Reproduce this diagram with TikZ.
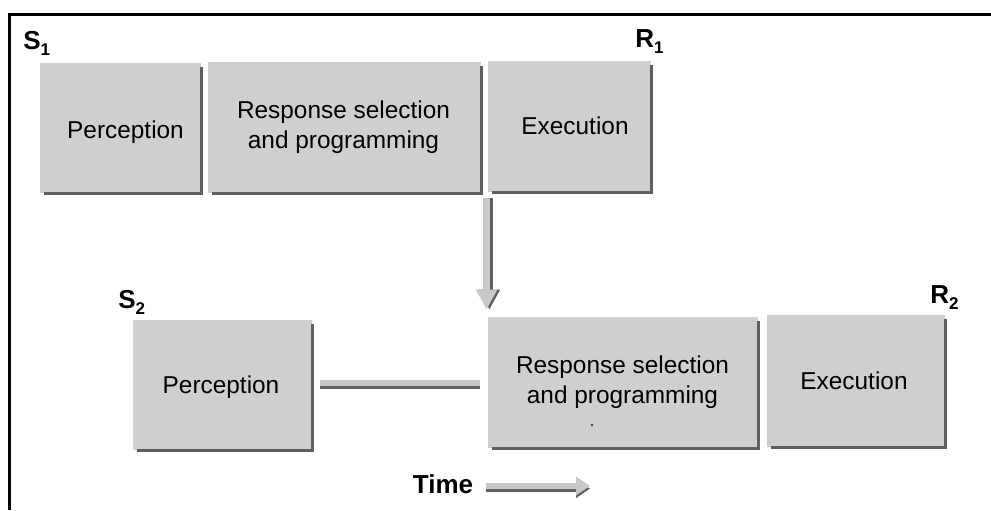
\documentclass[tikz,border=0pt]{standalone}
\usepackage{fontspec}
\setmainfont{Liberation Sans}
\usetikzlibrary{fit,arrows.meta,calc}
\definecolor{boxfill}{RGB}{207,207,207}
\definecolor{edgedark}{RGB}{95,95,95}
\definecolor{arrowlight}{RGB}{200,200,200}
\newcommand{\sublabel}[2]{\textbf{#1\raisebox{-3pt}{\fontsize{8.5}{9}\selectfont #2}}}
\tikzset{
  stagebox/.style={fill=boxfill, draw=none, inner sep=0pt},
  stagetext/.style={inner sep=0pt, align=center, font=\fontsize{12.2}{15}\selectfont},
  edgeshade/.style={draw=edgedark, line width=1.1pt},
  eventlabel/.style={inner sep=0pt, anchor=base west, font=\fontsize{13}{15}\selectfont},
  fatlight/.style={draw=arrowlight, line width=3.2pt},
  fatdark/.style={draw=edgedark, line width=3.2pt},
  fattip/.style={-{Triangle[width=10pt,length=10pt]}},
  timetip/.style={-{Triangle[width=9pt,length=7pt]}}
}
\begin{document}
\begin{tikzpicture}[x=0.5pt,y=-0.5pt]
\useasboundingbox (0,0) rectangle (991,510);
% frame along the top and left
\draw[line width=1.5pt] (9.5,510) -- (9.5,14.5) -- (991,14.5);

% first task
\node[stagebox, fit={(40,63) (201,193)}] (perc1) {};
\node[stagebox, fit={(208,62) (481,193)}] (rsp1) {};
\node[stagebox, fit={(488,61) (651,192)}] (exec1) {};

% second task
\node[stagebox, fit={(133,320) (312,450)}] (perc2) {};
\node[stagebox, fit={(488,317) (758,448)}] (rsp2) {};
\node[stagebox, fit={(767,315) (945,447)}] (exec2) {};

% dark edges on the right and bottom of each box
\foreach \n in {perc1,rsp1,exec1,perc2,rsp2,exec2}
  \draw[edgeshade] ($(\n.north east)+(0,4)$) -- (\n.south east) -- ($(\n.south west)+(4,0)$);

% stage names
\node[stagetext] (perc1-t) at (125.5,132.5) {Perception};
\node[stagetext] (rsp1-t) at (343.5,127) {Response selection\\and programming};
\node[stagetext] (exec1-t) at (575,126) {Execution};
\node[stagetext] (perc2-t) at (221,387) {Perception};
\node[stagetext] (rsp2-t) at (622.5,382.5) {Response selection\\and programming};
\node[stagetext] (exec2-t) at (854,380.5) {Execution};

% stimulus and response labels
\node[eventlabel] (s1) at (23,49) {\sublabel{S}{1}};
\node[eventlabel] (r1) at (635,47) {\sublabel{R}{1}};
\node[eventlabel] (s2) at (118,308) {\sublabel{S}{2}};
\node[eventlabel] (r2) at (930,303) {\sublabel{R}{2}};

% speck inside the second selection box
\fill[black!80] (592,425) circle (0.7pt);

% bottleneck arrow from the first execution down to the second selection
\draw[fatdark, fattip, transform canvas={xshift=1.4pt}, shorten <=3pt, shorten >=3.5pt]
  ([xshift=-0.5pt]exec1.south west) -- ([xshift=-0.5pt]rsp2.north west);
\draw[fatlight, fattip, shorten <=3pt, shorten >=3.5pt]
  ([xshift=-0.5pt]exec1.south west) -- ([xshift=-0.5pt]rsp2.north west);

% waiting bar between the second perception and selection
\coordinate (waitend) at (perc2.east -| rsp2.west);
\draw[fatdark, transform canvas={yshift=-1.3pt}, shorten <=4pt, shorten >=4pt]
  ([yshift=1pt]perc2.east) -- ([yshift=1pt]waitend);
\draw[fatlight, shorten <=4pt, shorten >=4pt]
  ([yshift=1pt]perc2.east) -- ([yshift=1pt]waitend);

% time axis
\node[inner sep=0pt, font=\bfseries\fontsize{13}{15}\selectfont] (time) at (443,484) {Time};
\coordinate (tend) at (590,486);
\draw[fatdark, timetip, transform canvas={yshift=-1.3pt}, shorten <=6pt]
  ([yshift=-1pt]time.east) -- (tend);
\draw[fatlight, timetip, shorten <=6pt]
  ([yshift=-1pt]time.east) -- (tend);
\end{tikzpicture}
\end{document}
